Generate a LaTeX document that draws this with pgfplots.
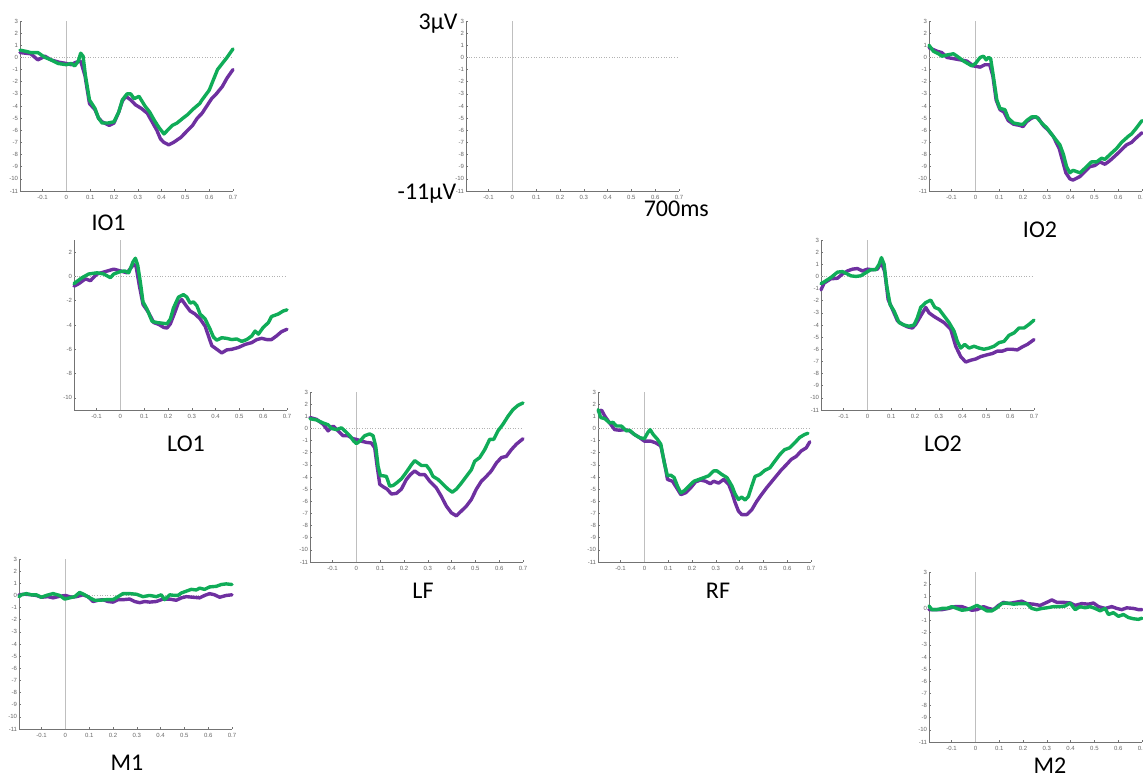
\documentclass[border=0pt]{standalone}
\usepackage{fontspec}
\setmainfont{Carlito}
\newfontfamily\tickfont{Liberation Sans}
\usepackage{pgfplots}
\pgfplotsset{compat=1.18}
\definecolor{erppurple}{RGB}{110,48,160}
\definecolor{erpgreen}{RGB}{16,172,88}
\pgfplotsset{
 erp/.style={
  scale only axis, width=106.5pt, height=85pt,
  xmin=-0.195, xmax=0.7, ymin=-11, ymax=3,
  axis x line*=bottom, axis y line*=left,
  axis line style={black!55, line width=0.3pt},
  xtick={-0.1,0,0.1,0.2,0.3,0.4,0.5,0.6,0.7},
  xticklabels={-0.1,0,0.1,0.2,0.3,0.4,0.5,0.6,0.7},
  ytick={-11,-10,-9,-8,-7,-6,-5,-4,-3,-2,-1,0,1,2,3},
  yticklabels={-11,-10,-9,-8,-7,-6,-5,-4,-3,-2,-1,0,1,2,3},
  tick align=inside, major tick length=1pt,
  tick style={black!55, line width=0.3pt},
  ticklabel style={font=\tickfont\fontsize{3}{3}\selectfont, text=black!60, inner sep=0.8pt},
  xticklabel style={yshift=-1.2pt},
  anchor=south west, clip=false,
 },
 pur/.style={erppurple, line width=1.7pt, line join=round, line cap=round, no markers},
 grn/.style={erpgreen, line width=1.7pt, line join=round, line cap=round, no markers},
}
\newcommand{\zerolines}{%
 \addplot[black!30, line width=0.3pt, densely dotted, forget plot] coordinates {(-0.195,0) (0.7,0)};
 \addplot[black!25, line width=0.3pt, forget plot] coordinates {(0,-11) (0,3)};
}
\begin{document}
\begin{tikzpicture}
% IO1
\begin{axis}[erp, at={(10pt,293pt)}]
\zerolines
\addplot[pur] coordinates {(-0.195,0.4) (-0.15,0.3) (-0.12,-0.2) (-0.09,0.1) (-0.065,-0.2) (-0.03,-0.4) (0,-0.5) (0.02,-0.6) (0.04,-0.4) (0.06,-0.3) (0.078,-1.5) (0.097,-3.8) (0.12,-4.3) (0.135,-5.0) (0.15,-5.3) (0.18,-5.6) (0.2,-5.4) (0.22,-4.5) (0.235,-3.6) (0.25,-3.2) (0.27,-3.5) (0.29,-3.9) (0.315,-4.2) (0.34,-4.6) (0.36,-5.3) (0.38,-6.0) (0.395,-6.7) (0.41,-7.0) (0.43,-7.2) (0.45,-7.0) (0.48,-6.6) (0.5,-6.2) (0.53,-5.6) (0.55,-5.0) (0.57,-4.6) (0.59,-4.0) (0.61,-3.4) (0.63,-3.0) (0.655,-2.4) (0.675,-1.7) (0.7,-1.0)};
\addplot[grn] coordinates {(-0.195,0.6) (-0.17,0.5) (-0.15,0.4) (-0.12,0.4) (-0.09,0.0) (-0.065,-0.2) (-0.035,-0.5) (0,-0.6) (0.02,-0.5) (0.035,-0.7) (0.05,-0.3) (0.06,0.35) (0.07,0.1) (0.08,-1.5) (0.097,-3.5) (0.12,-4.2) (0.135,-5.0) (0.15,-5.4) (0.175,-5.4) (0.2,-5.3) (0.22,-4.5) (0.235,-3.5) (0.255,-3.0) (0.27,-3.0) (0.285,-3.4) (0.305,-3.2) (0.33,-4.0) (0.35,-4.5) (0.37,-5.2) (0.39,-5.8) (0.41,-6.3) (0.425,-6.0) (0.445,-5.6) (0.465,-5.4) (0.49,-5.0) (0.51,-4.7) (0.53,-4.3) (0.56,-3.8) (0.57,-3.5) (0.6,-2.7) (0.635,-1.0) (0.655,-0.5) (0.675,0.0) (0.7,0.7)};
\end{axis}
% scale panel
\begin{axis}[erp, at={(233pt,293pt)}]
\zerolines
\end{axis}
% IO2
\begin{axis}[erp, at={(464.5pt,293pt)}]
\zerolines
\addplot[pur] coordinates {(-0.195,0.8) (-0.16,0.5) (-0.141,0.4) (-0.12,0.0) (-0.092,-0.1) (-0.064,-0.2) (-0.036,-0.3) (-0.008,-0.7) (0.02,-0.8) (0.04,-0.6) (0.06,-0.6) (0.073,-1.5) (0.087,-3.5) (0.103,-4.3) (0.12,-4.5) (0.138,-5.2) (0.16,-5.5) (0.187,-5.6) (0.2,-5.7) (0.215,-5.3) (0.236,-5.0) (0.25,-4.9) (0.264,-5.0) (0.285,-5.6) (0.306,-6.0) (0.327,-6.5) (0.352,-7.5) (0.366,-8.5) (0.38,-9.5) (0.397,-10.0) (0.41,-10.1) (0.44,-9.8) (0.46,-9.4) (0.48,-9.0) (0.502,-8.9) (0.523,-8.6) (0.544,-8.8) (0.565,-8.5) (0.593,-8.0) (0.614,-7.6) (0.635,-7.2) (0.656,-7.0) (0.677,-6.6) (0.7,-6.2)};
\addplot[grn] coordinates {(-0.195,1.0) (-0.176,0.5) (-0.155,0.3) (-0.141,0.1) (-0.12,0.2) (-0.092,0.3) (-0.07,0.0) (-0.05,-0.3) (-0.015,-0.7) (0,-0.5) (0.02,0.0) (0.034,0.1) (0.045,-0.2) (0.055,0.0) (0.064,-0.1) (0.075,-1.5) (0.09,-3.5) (0.103,-4.2) (0.124,-4.3) (0.138,-5.0) (0.16,-5.4) (0.187,-5.5) (0.2,-5.5) (0.215,-5.2) (0.236,-4.9) (0.257,-4.9) (0.278,-5.4) (0.3,-5.8) (0.327,-6.5) (0.355,-7.2) (0.37,-8.0) (0.383,-9.0) (0.397,-9.5) (0.41,-9.3) (0.425,-9.4) (0.44,-9.5) (0.467,-9.0) (0.488,-8.6) (0.51,-8.6) (0.53,-8.3) (0.544,-8.4) (0.565,-8.0) (0.593,-7.5) (0.614,-7.0) (0.642,-6.5) (0.656,-6.3) (0.677,-5.8) (0.7,-5.2)};
\end{axis}
% LO1
\begin{axis}[erp, at={(37pt,183.5pt)}, ytick={-10,-8,-6,-4,-2,0,2}, yticklabels={-10,-8,-6,-4,-2,0,2}]
\zerolines
\addplot[pur] coordinates {(-0.195,-0.8) (-0.175,-0.6) (-0.147,-0.2) (-0.126,-0.35) (-0.098,0.2) (-0.063,0.4) (-0.028,0.6) (0,0.45) (0.028,0.3) (0.056,1.0) (0.066,0.8) (0.08,-0.8) (0.095,-2.3) (0.119,-3.0) (0.14,-3.8) (0.161,-3.95) (0.182,-4.2) (0.196,-4.25) (0.21,-3.9) (0.228,-3.0) (0.244,-2.15) (0.258,-1.9) (0.272,-2.3) (0.293,-2.85) (0.314,-3.1) (0.335,-3.5) (0.356,-4.1) (0.37,-4.9) (0.384,-5.7) (0.405,-6.0) (0.426,-6.3) (0.447,-6.05) (0.468,-6.0) (0.496,-5.85) (0.524,-5.6) (0.552,-5.45) (0.573,-5.2) (0.594,-5.1) (0.615,-5.2) (0.635,-5.2) (0.656,-4.9) (0.677,-4.55) (0.7,-4.35)};
\addplot[grn] coordinates {(-0.195,-0.6) (-0.189,-0.5) (-0.161,-0.1) (-0.133,0.2) (-0.098,0.3) (-0.07,0.2) (-0.042,-0.1) (-0.028,0.2) (0,0.4) (0.018,0.45) (0.035,0.3) (0.053,1.2) (0.063,1.5) (0.073,0.9) (0.084,-0.5) (0.095,-2.1) (0.112,-2.7) (0.133,-3.7) (0.154,-3.8) (0.175,-3.85) (0.196,-3.9) (0.21,-3.5) (0.223,-2.6) (0.244,-1.7) (0.265,-1.5) (0.279,-1.7) (0.293,-2.2) (0.307,-2.1) (0.321,-2.4) (0.335,-3.1) (0.356,-3.5) (0.377,-4.35) (0.391,-5.0) (0.405,-5.25) (0.426,-5.05) (0.447,-5.1) (0.468,-5.2) (0.489,-5.15) (0.51,-5.35) (0.531,-5.2) (0.552,-4.9) (0.566,-4.5) (0.58,-4.75) (0.6,-4.2) (0.622,-3.8) (0.635,-3.3) (0.663,-3.1) (0.684,-2.85) (0.7,-2.75)};
\end{axis}
% LO2
\begin{axis}[erp, at={(410.5pt,183.5pt)}]
\zerolines
\addplot[pur] coordinates {(-0.195,-1.1) (-0.182,-0.55) (-0.154,-0.2) (-0.126,-0.15) (-0.105,0.2) (-0.084,0.45) (-0.063,0.6) (-0.042,0.65) (-0.021,0.45) (0,0.6) (0.021,0.55) (0.042,0.6) (0.059,1.15) (0.073,0.35) (0.087,-1.9) (0.105,-2.7) (0.126,-3.65) (0.147,-3.95) (0.168,-4.15) (0.189,-4.25) (0.203,-3.95) (0.224,-3.25) (0.245,-2.55) (0.259,-3.0) (0.28,-3.3) (0.301,-3.55) (0.322,-3.8) (0.35,-4.35) (0.371,-5.75) (0.392,-6.6) (0.413,-7.05) (0.434,-6.9) (0.455,-6.8) (0.476,-6.6) (0.504,-6.45) (0.525,-6.35) (0.546,-6.15) (0.567,-6.15) (0.588,-6.0) (0.609,-6.0) (0.63,-6.05) (0.651,-5.8) (0.672,-5.6) (0.7,-5.2)};
\addplot[grn] coordinates {(-0.195,-0.6) (-0.182,-0.45) (-0.154,-0.1) (-0.126,0.35) (-0.105,0.4) (-0.084,0.2) (-0.07,0.05) (-0.049,0.0) (-0.028,0.05) (-0.007,0.3) (0.014,0.55) (0.035,0.55) (0.049,1.0) (0.059,1.55) (0.07,1.0) (0.081,-0.75) (0.095,-2.3) (0.112,-2.85) (0.133,-3.8) (0.154,-4.0) (0.175,-4.1) (0.196,-4.0) (0.21,-3.4) (0.224,-2.55) (0.245,-2.15) (0.266,-1.95) (0.283,-2.55) (0.301,-2.7) (0.322,-3.25) (0.343,-3.8) (0.364,-4.5) (0.378,-5.35) (0.392,-5.9) (0.409,-5.6) (0.427,-5.9) (0.448,-5.75) (0.469,-5.9) (0.49,-6.0) (0.511,-5.9) (0.532,-5.75) (0.553,-5.45) (0.574,-5.35) (0.595,-4.85) (0.616,-4.65) (0.637,-4.25) (0.658,-4.25) (0.679,-3.95) (0.7,-3.6)};
\end{axis}
% LF
\begin{axis}[erp, at={(155pt,107.5pt)}]
\zerolines
\addplot[pur] coordinates {(-0.195,0.9) (-0.168,0.75) (-0.14,0.35) (-0.119,-0.2) (-0.098,0.2) (-0.077,-0.2) (-0.056,-0.6) (-0.035,-0.6) (-0.014,-0.85) (0,-0.9) (0.021,-1.05) (0.042,-1.15) (0.063,-1.2) (0.077,-1.6) (0.087,-3.1) (0.098,-4.6) (0.112,-4.8) (0.129,-5.0) (0.147,-5.4) (0.168,-5.35) (0.189,-5.0) (0.21,-4.2) (0.227,-3.8) (0.245,-3.5) (0.266,-3.8) (0.287,-3.8) (0.308,-4.35) (0.336,-4.9) (0.357,-5.6) (0.378,-6.4) (0.399,-6.95) (0.42,-7.2) (0.441,-6.8) (0.462,-6.4) (0.483,-5.85) (0.504,-5.0) (0.525,-4.35) (0.546,-3.95) (0.567,-3.5) (0.588,-2.85) (0.609,-2.4) (0.63,-2.3) (0.651,-1.75) (0.672,-1.3) (0.7,-0.85)};
\addplot[grn] coordinates {(-0.195,0.8) (-0.168,0.7) (-0.14,0.45) (-0.119,0.3) (-0.105,0.0) (-0.084,-0.1) (-0.063,0.05) (-0.049,-0.2) (-0.028,-0.6) (-0.011,-1.05) (0,-1.25) (0.014,-1.05) (0.035,-0.6) (0.056,-0.45) (0.07,-0.6) (0.081,-1.45) (0.091,-3.1) (0.101,-3.9) (0.112,-3.9) (0.126,-3.95) (0.14,-4.75) (0.154,-4.7) (0.168,-4.5) (0.189,-4.15) (0.21,-3.6) (0.231,-3.0) (0.245,-2.65) (0.259,-2.85) (0.273,-3.05) (0.294,-3.05) (0.308,-3.4) (0.322,-3.95) (0.343,-4.2) (0.364,-4.6) (0.385,-5.0) (0.403,-5.25) (0.42,-5.0) (0.441,-4.5) (0.462,-3.95) (0.483,-3.4) (0.497,-2.7) (0.518,-2.4) (0.539,-1.75) (0.56,-0.9) (0.577,-0.9) (0.595,-0.2) (0.616,0.35) (0.637,1.0) (0.658,1.55) (0.679,1.9) (0.7,2.1)};
\end{axis}
% RF
\begin{axis}[erp, at={(299pt,107.5pt)}]
\zerolines
\addplot[pur] coordinates {(-0.194,1.4) (-0.18,1.5) (-0.166,1.0) (-0.146,0.45) (-0.125,-0.1) (-0.104,-0.15) (-0.083,-0.1) (-0.062,-0.2) (-0.042,-0.5) (-0.021,-0.75) (0,-1.05) (0.028,-1.05) (0.049,-1.2) (0.069,-1.45) (0.083,-2.7) (0.097,-4.2) (0.118,-4.35) (0.139,-5.0) (0.153,-5.45) (0.173,-5.3) (0.194,-4.9) (0.215,-4.4) (0.236,-4.25) (0.257,-4.35) (0.277,-4.55) (0.291,-4.35) (0.312,-4.5) (0.333,-4.2) (0.354,-4.6) (0.368,-5.3) (0.381,-6.1) (0.395,-6.8) (0.409,-7.1) (0.43,-7.1) (0.451,-6.7) (0.472,-6.0) (0.492,-5.45) (0.513,-4.9) (0.534,-4.4) (0.555,-3.9) (0.576,-3.4) (0.596,-3.0) (0.617,-2.55) (0.638,-2.3) (0.659,-1.85) (0.68,-1.6) (0.695,-1.1)};
\addplot[grn] coordinates {(-0.194,1.55) (-0.184,0.9) (-0.166,0.8) (-0.146,0.45) (-0.132,0.5) (-0.118,0.2) (-0.097,0.2) (-0.076,-0.2) (-0.062,-0.15) (-0.042,-0.5) (-0.021,-0.75) (0,-0.85) (0.014,-0.35) (0.024,-0.1) (0.037,-0.5) (0.055,-0.9) (0.069,-1.3) (0.083,-2.8) (0.097,-3.9) (0.111,-3.85) (0.125,-4.05) (0.139,-4.75) (0.153,-5.3) (0.166,-5.15) (0.187,-4.75) (0.208,-4.35) (0.229,-4.2) (0.25,-4.05) (0.27,-3.9) (0.291,-3.5) (0.305,-3.5) (0.326,-3.8) (0.347,-4.05) (0.368,-4.75) (0.381,-5.4) (0.395,-5.85) (0.409,-5.65) (0.423,-5.9) (0.437,-5.6) (0.451,-4.75) (0.465,-3.95) (0.485,-3.8) (0.506,-3.45) (0.527,-3.25) (0.548,-2.7) (0.569,-2.15) (0.589,-1.75) (0.61,-1.6) (0.631,-1.2) (0.652,-0.75) (0.673,-0.5) (0.687,-0.4)};
\end{axis}
% M1
\begin{axis}[erp, at={(9.5pt,24pt)}]
\zerolines
\addplot[pur] coordinates {(-0.195,0.05) (-0.171,0.1) (-0.143,0.05) (-0.122,0.0) (-0.101,-0.15) (-0.073,-0.1) (-0.052,-0.2) (-0.031,-0.1) (0,0.0) (0.025,-0.15) (0.046,-0.1) (0.074,0.05) (0.095,-0.1) (0.116,-0.5) (0.137,-0.4) (0.158,-0.35) (0.179,-0.5) (0.2,-0.55) (0.221,-0.35) (0.242,-0.35) (0.27,-0.3) (0.291,-0.5) (0.312,-0.6) (0.333,-0.5) (0.354,-0.55) (0.382,-0.5) (0.41,-0.3) (0.438,-0.3) (0.466,-0.4) (0.487,-0.2) (0.508,-0.1) (0.536,-0.15) (0.564,-0.2) (0.585,0.0) (0.606,0.15) (0.627,0.05) (0.648,-0.15) (0.676,0.0) (0.7,0.05)};
\addplot[grn] coordinates {(-0.195,-0.1) (-0.185,0.05) (-0.164,0.15) (-0.143,0.05) (-0.122,0.05) (-0.101,-0.15) (-0.08,0.0) (-0.052,0.15) (-0.024,0.0) (-0.003,-0.3) (0.018,-0.2) (0.039,-0.1) (0.06,0.25) (0.081,0.05) (0.102,-0.2) (0.123,-0.4) (0.144,-0.4) (0.172,-0.35) (0.2,-0.35) (0.221,-0.1) (0.242,0.15) (0.27,0.15) (0.298,0.1) (0.326,-0.1) (0.354,0.0) (0.382,-0.1) (0.403,0.05) (0.417,-0.35) (0.438,0.05) (0.459,0.0) (0.473,0.0) (0.487,0.2) (0.508,0.35) (0.529,0.5) (0.55,0.45) (0.564,0.6) (0.585,0.5) (0.606,0.7) (0.634,0.75) (0.655,0.9) (0.676,0.95) (0.7,0.9)};
\end{axis}
% M2
\begin{axis}[erp, at={(464.5pt,17.5pt)}]
\zerolines
\addplot[pur] coordinates {(-0.195,-0.1) (-0.169,-0.1) (-0.141,-0.1) (-0.113,0.0) (-0.085,0.15) (-0.057,0.15) (-0.036,0.0) (-0.015,-0.15) (0.006,-0.1) (0.034,0.15) (0.055,0.0) (0.076,-0.1) (0.097,0.25) (0.118,0.5) (0.139,0.4) (0.167,0.5) (0.195,0.6) (0.216,0.4) (0.244,0.35) (0.272,0.25) (0.3,0.5) (0.321,0.7) (0.342,0.5) (0.37,0.5) (0.398,0.45) (0.419,0.25) (0.447,0.4) (0.475,0.35) (0.496,0.45) (0.517,0.15) (0.545,0.0) (0.573,0.15) (0.594,0.0) (0.615,-0.1) (0.636,0.05) (0.664,0.0) (0.685,-0.1) (0.7,-0.1)};
\addplot[grn] coordinates {(-0.195,0.2) (-0.183,-0.1) (-0.162,-0.1) (-0.141,0.0) (-0.12,0.0) (-0.099,0.15) (-0.078,0.0) (-0.057,-0.15) (-0.036,-0.1) (-0.015,0.05) (0.006,0.25) (0.027,0.05) (0.048,-0.2) (0.069,-0.2) (0.09,0.05) (0.111,0.4) (0.132,0.45) (0.16,0.35) (0.188,0.4) (0.216,0.4) (0.237,0.0) (0.258,-0.1) (0.279,0.0) (0.3,0.05) (0.328,0.15) (0.356,0.15) (0.377,0.2) (0.398,0.45) (0.419,-0.1) (0.44,0.15) (0.461,0.05) (0.482,0.15) (0.503,0.0) (0.524,-0.2) (0.545,0.0) (0.559,-0.5) (0.58,-0.35) (0.601,-0.65) (0.622,-0.5) (0.643,-0.75) (0.664,-0.85) (0.685,-0.9) (0.7,-0.8)};
\end{axis}
% labels
\begin{scope}[every node/.style={font=\fontsize{12}{12}\selectfont, inner sep=0pt}]
\node[anchor=base] at (54.3pt,273pt) {IO1};
\node[anchor=base] at (520pt,269.5pt) {IO2};
\node[anchor=base] at (93pt,163pt) {LO1};
\node[anchor=base] at (471.5pt,163pt) {LO2};
\node[anchor=base] at (211.5pt,89.5pt) {LF};
\node[anchor=base] at (359pt,89.5pt) {RF};
\node[anchor=base] at (63.5pt,3.5pt) {M1};
\node[anchor=base] at (525pt,2pt) {M2};
\node[anchor=base east] at (229pt,373.8pt) {3µV};
\node[anchor=base east] at (228.3pt,288.8pt) {-11µV};
\node[anchor=base west] at (321.7pt,280.2pt) {700ms};
\end{scope}
\pgfresetboundingbox
\useasboundingbox (0,0) rectangle (571.5pt,388.5pt);
\end{tikzpicture}
\end{document}
